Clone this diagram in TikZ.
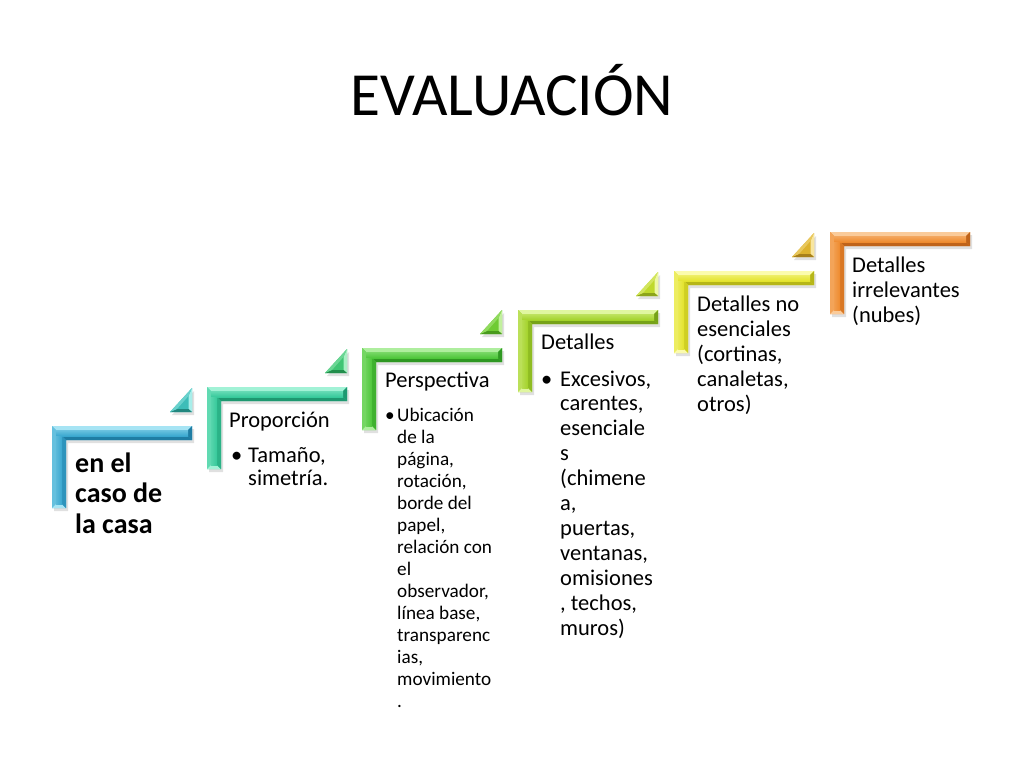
\documentclass[tikz,border=0pt]{standalone}
\usepackage{fontspec}
\setmainfont{Carlito}
\definecolor{aF}{HTML}{3AA7CF}\definecolor{aL}{HTML}{A6E4F4}\definecolor{aD}{HTML}{1F7DA4}
\definecolor{bF}{HTML}{36C99A}\definecolor{bL}{HTML}{A2F2D6}\definecolor{bD}{HTML}{1E9870}
\definecolor{cF}{HTML}{4DC63A}\definecolor{cL}{HTML}{AEEE9E}\definecolor{cD}{HTML}{2E9822}
\definecolor{dF}{HTML}{A3D22A}\definecolor{dL}{HTML}{E0F6A0}\definecolor{dD}{HTML}{76A218}
\definecolor{eF}{HTML}{E3E32C}\definecolor{eL}{HTML}{FBFBAE}\definecolor{eD}{HTML}{B6B618}
\definecolor{fF}{HTML}{EE8A2E}\definecolor{fL}{HTML}{FACB9A}\definecolor{fD}{HTML}{BF631A}
\definecolor{t1F}{HTML}{3DBDB8}\definecolor{t1L}{HTML}{A8EEEA}\definecolor{t1D}{HTML}{21877F}
\definecolor{t2F}{HTML}{40C574}\definecolor{t2L}{HTML}{A8F0C4}\definecolor{t2D}{HTML}{228E4C}
\definecolor{t3F}{HTML}{6FCB33}\definecolor{t3L}{HTML}{C2F09E}\definecolor{t3D}{HTML}{489A1C}
\definecolor{t4F}{HTML}{BFD92C}\definecolor{t4L}{HTML}{EEF8A6}\definecolor{t4D}{HTML}{8CA41A}
\definecolor{t5F}{HTML}{DDB22E}\definecolor{t5L}{HTML}{F8E6A0}\definecolor{t5D}{HTML}{A8801A}
\newcommand\stepbracket[5]{%
\begin{scope}[shift={(#1,#2)}]
\fill[black,opacity=.12] (2,3) -- (142,3) -- (142,17) -- (16,17) -- (16,85) -- (2,85) -- cycle;
\fill[#3] (0,0) -- (140,0) -- (140,14) -- (14,14) -- (14,82) -- (0,82) -- cycle;
\fill[#4] (0,0) -- (140,0) -- (136,4) -- (4,4) -- cycle;
\fill[#3!60!#4] (0,0) -- (4,4) -- (4,78) -- (0,82) -- cycle;
\fill[#5] (140,0) -- (140,14) -- (136,10) -- (136,4) -- cycle;
\fill[#4] (0,82) -- (14,82) -- (10,78) -- (4,78) -- cycle;
\fill[#5] (14,14) -- (140,14) -- (136,10) -- (10,10) -- cycle;
\fill[#3!55!#5] (14,14) -- (14,82) -- (10,78) -- (10,10) -- cycle;
\shade[top color=#3!55!#4, bottom color=#3] (4,4) -- (136,4) -- (136,10) -- (4,10) -- cycle;
\shade[left color=#3!70!#4, right color=#3] (4,10) -- (10,10) -- (10,78) -- (4,78) -- cycle;
\end{scope}}
\newcommand\steptri[5]{%
\begin{scope}[shift={(#1,#2)}]
\fill[black,opacity=.12] (120,-11) -- (142,-11) -- (142,-35) -- cycle;
\fill[#3] (118,-14) -- (140,-14) -- (140,-38) -- cycle;
\fill[#4] (140,-14) -- (140,-38) -- (136.5,-30) -- (136.5,-17) -- cycle;
\fill[#5] (118,-14) -- (140,-14) -- (136.5,-17) -- (125,-17) -- cycle;
\fill[#3!60!#4] (118,-14) -- (140,-38) -- (136.5,-30) -- (125,-17) -- cycle;
\end{scope}}
\tikzset{
 txt/.style={anchor=base west, inner sep=0pt, font=\fontsize{22.5}{25}\selectfont},
 smalltxt/.style={anchor=base west, inner sep=0pt, font=\fontsize{19.2}{22}\selectfont},
 bigtxt/.style={anchor=base west, inner sep=0pt, font=\bfseries\fontsize{28}{31}\selectfont}
}
\begin{document}
\begin{tikzpicture}[x=1pt,y=-1pt]
\useasboundingbox[fill=white] (0,0) rectangle (1024,768);
\node[anchor=base, inner sep=0pt, font=\fontsize{61.3}{70}\selectfont] (title) at (512,115) {EVALUACIÓN};
% brackets
\stepbracket{52}{426}{aF}{aL}{aD}
\stepbracket{207}{387}{bF}{bL}{bD}
\stepbracket{362}{348}{cF}{cL}{cD}
\stepbracket{518}{310}{dF}{dL}{dD}
\stepbracket{674}{271}{eF}{eL}{eD}
\stepbracket{830}{232}{fF}{fL}{fD}
% triangles
\steptri{52}{426}{t1F}{t1L}{t1D}
\steptri{207}{387}{t2F}{t2L}{t2D}
\steptri{362}{348}{t3F}{t3L}{t3D}
\steptri{518}{310}{t4F}{t4L}{t4D}
\steptri{674}{271}{t5F}{t5L}{t5D}
% step 1
\foreach \t [count=\i from 0] in {{en el}, {caso de}, {la casa}}
  \node[bigtxt] (s1-\i) at (75,472+30.5*\i) {\t};
% step 2
\node[txt] (s2-h) at (229,427) {Proporción};
\node[txt] (s2-b) at (231,462) {•};
\foreach \t [count=\i from 0] in {{Tamaño,}, {simetría.}}
  \node[txt] (s2-\i) at (248,462+23.5*\i) {\t};
% step 3
\node[txt] (s3-h) at (385,387) {Perspectiva};
\node[smalltxt] (s3-b) at (385,421) {•};
\foreach \t [count=\i from 0] in {{Ubicación}, {de la}, {página,}, {rotación,}, {borde del}, {papel,}, {relación con}, {el}, {observador,}, {línea base,}, {transparenc}, {ias,}, {movimiento}, {.}}
  \node[smalltxt] (s3-\i) at (397,421+22.05*\i) {\t};
% step 4
\node[txt] (s4-h) at (541,349) {Detalles};
\node[txt] (s4-b) at (541,386) {•};
\foreach \t [count=\i from 0] in {{Excesivos,}, {carentes,}, {esenciale}, {s}, {(chimene}, {a,}, {puertas,}, {ventanas,}, {omisiones}, {, techos,}, {muros)}}
  \node[txt] (s4-\i) at (560,386+24.9*\i) {\t};
% step 5
\foreach \t [count=\i from 0] in {{Detalles no}, {esenciales}, {(cortinas,}, {canaletas,}, {otros)}}
  \node[txt] (s5-\i) at (697,311+25.2*\i) {\t};
% step 6
\foreach \t [count=\i from 0] in {{Detalles}, {irrelevantes}, {(nubes)}}
  \node[txt] (s6-\i) at (852,272+25.2*\i) {\t};
\end{tikzpicture}
\end{document}
